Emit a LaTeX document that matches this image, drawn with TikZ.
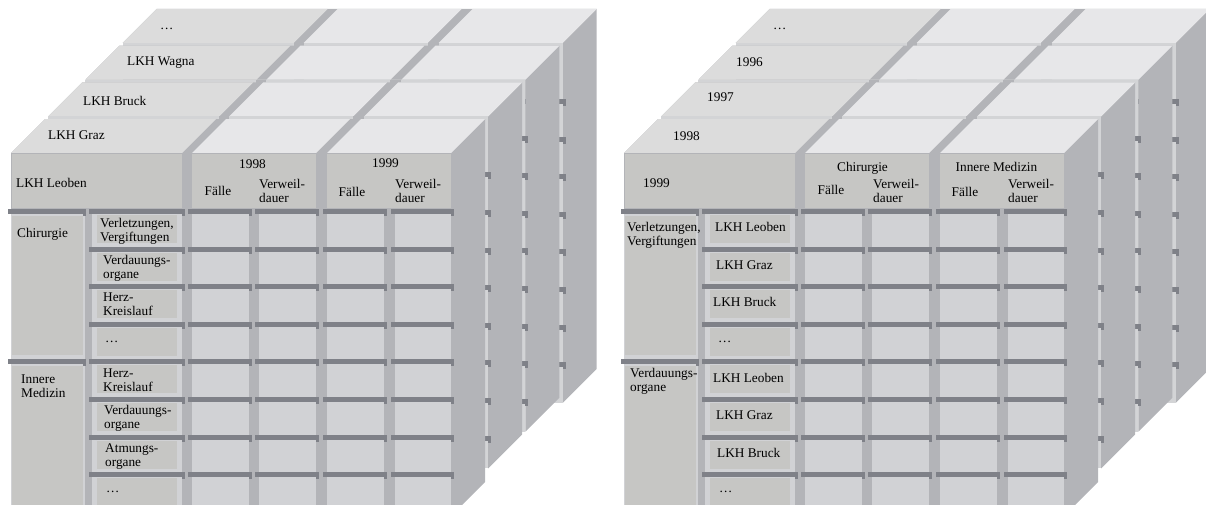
\documentclass[tikz,border=0pt]{standalone}
\usepackage{fontspec}
\setmainfont{Liberation Serif}
\definecolor{gmed}{HTML}{B3B4B8}
\definecolor{glight}{HTML}{D1D2D5}
\definecolor{ghead}{HTML}{C6C6C4}
\definecolor{gdark}{HTML}{7F8188}
\definecolor{gtop}{HTML}{E7E7E9}
\definecolor{gtopl}{HTML}{DCDCDC}
\definecolor{ggap}{HTML}{D3D4D6}
\tikzset{
  lbl/.style={inner sep=0pt, font=\fontsize{13.3}{14}\selectfont, align=left, anchor=base west},
  lblc/.style={inner sep=0pt, font=\fontsize{13.3}{14}\selectfont, anchor=base},
}
% right face and top face of slice #1 with local bottom #2
\newcommand\slicefaces[2]{%
 \begin{scope}[shift={({37.2*#1},{-36.7*#1})}]
   \fill[gmed] (451,153) -- (485,119) -- (485,#2-34) -- (451,#2) -- cycle;
   \fill[gmed] (11,153) -- (451,153) -- (485,119) -- (45,119) -- cycle;
   \fill[gtopl] (11,153) -- (182,153) -- (216,119) -- (45,119) -- cycle;
   \fill[gtop] (192,153) -- (316,153) -- (350,119) -- (226,119) -- cycle;
   \fill[gtop] (327,153) -- (451,153) -- (485,119) -- (361,119) -- cycle;
 \end{scope}}
% front face of a back slice (only a thin edge stays visible)
\newcommand\backfront[2]{%
 \begin{scope}[shift={({37.2*#1},{-36.7*#1})}]
   \fill[ggap] (11,153) rectangle (451,#2);
   \fill[gmed] (182,153) rectangle (192,209);
   \fill[gmed] (316,153) rectangle (327,209);
   \foreach \r in {0,...,7} {
      \pgfmathsetmacro\yb{209+37.6*\r}
      \fill[gdark] (392,\yb) rectangle (454,\yb+5);
      \fill[gdark] (451,\yb+5) rectangle (454,\yb+7);
   }
 \end{scope}}
\newcommand\frontface{%
  \fill[gmed] (11,153) rectangle (451,516);
  \fill[ghead] (12,154) rectangle (182,208);
  \fill[ghead] (192,154) rectangle (316,208);
  \fill[ghead] (327,154) rectangle (451,208);
  \fill[glight] (11,209) rectangle (85,516);
  \fill[glight] (92,209) rectangle (182,516);
  \foreach \a/\b in {192/249,259/316,327/384,395/451} {\fill[glight] (\a,209) rectangle (\b,516);}
  \fill[ghead] (12,216) rectangle (83,355);
  \fill[ghead] (12,366) rectangle (83,516);
  \foreach \r in {0,...,8} {
    \pgfmathsetmacro\yb{209+37.6*\r}
    \fill[ghead] (97,\yb+6) rectangle (177,\yb+34);
    \fill[gdark] (89,\yb) rectangle (185,\yb+5);
    \fill[gdark] (182,\yb+5) rectangle (185,\yb+7);
    \foreach \a/\b in {192/249,259/316,327/384,395/451} {
      \fill[gdark] (\a-4,\yb) rectangle (\b+3,\yb+5);
      \fill[gdark] (\b,\yb+5) rectangle (\b+3,\yb+7);
    }
  }
  \foreach \yb in {209,359.4} {
    \fill[gdark] (8,\yb) rectangle (86,\yb+5);
    \fill[gdark] (83,\yb+5) rectangle (86,\yb+7);
  }
}
\newcommand\drawcube{%
  \slicefaces{3}{513}\backfront{3}{513}%
  \slicefaces{2}{505}\backfront{2}{505}%
  \slicefaces{1}{505}\backfront{1}{505}%
  \slicefaces{0}{516}\frontface
}
\begin{document}
\begin{tikzpicture}[x=1pt,y=-1pt]
\useasboundingbox (0,0) rectangle (1206,504);
\clip (0,0) rectangle (1206,504);
\drawcube
\begin{scope}[shift={(613,0)}]
\drawcube
\end{scope}
% ---------- left cube labels
\node[lbl] (lgraz) at (48,139) {LKH Graz};
\node[lbl] (lbruck) at (83,105) {LKH Bruck};
\node[lbl] (lwagna) at (127,65) {LKH Wagna};
\node[lbl] (ltopdots) at (160,29) {…};
\node[lbl] (lleoben) at (16,187) {LKH Leoben};
\node[lblc] (l1998) at (252.5,168) {1998};
\node[lblc] (lf98) at (218,195) {Fälle};
\node[lbl] (lv98) at (259,202) {Verweil-\\dauer};
\node[lblc] (l1999) at (385.5,167.5) {1999};
\node[lblc] (lf99) at (352,196) {Fälle};
\node[lbl] (lv99) at (395,202) {Verweil-\\dauer};
\node[lbl] (lchir) at (17,237) {Chirurgie};
\node[lbl] (linn) at (21,397) {Innere\\Medizin};
\node[lbl] (lb0) at (100,241) {Verletzungen,\\Vergiftungen};
\node[lbl] (lb1) at (103,278) {Verdauungs-\\organe};
\node[lbl] (lb2) at (103,315.5) {Herz-\\Kreislauf};
\node[lbl] (lb3) at (105,342) {…};
\node[lbl] (lb4) at (103,391) {Herz-\\Kreislauf};
\node[lbl] (lb5) at (104,428.5) {Verdauungs-\\organe};
\node[lbl] (lb6) at (105,466) {Atmungs-\\organe};
\node[lbl] (lb7) at (106,492) {…};
% ---------- right cube labels
\node[lbl] (r1998) at (673,140) {1998};
\node[lbl] (r1997) at (707,101) {1997};
\node[lbl] (r1996) at (736,66.5) {1996};
\node[lbl] (rtopdots) at (773,29) {…};
\node[lbl] (r1999) at (643,187) {1999};
\node[lblc] (rchir) at (862.5,171) {Chirurgie};
\node[lblc] (rfc) at (831,194) {Fälle};
\node[lbl] (rvc) at (873,202) {Verweil-\\dauer};
\node[lblc] (rinn) at (996.5,171) {Innere Medizin};
\node[lblc] (rfi) at (965,196) {Fälle};
\node[lbl] (rvi) at (1008,202) {Verweil-\\dauer};
\node[lbl] (rva) at (627,245) {Verletzungen,\\Vergiftungen};
\node[lbl] (rvo) at (630,391) {Verdauungs-\\organe};
\node[lbl] (rb0) at (715,231) {LKH Leoben};
\node[lbl] (rb1) at (716,269) {LKH Graz};
\node[lbl] (rb2) at (713,306) {LKH Bruck};
\node[lbl] (rb3) at (718,342) {…};
\node[lbl] (rb4) at (713,382) {LKH Leoben};
\node[lbl] (rb5) at (716,419.5) {LKH Graz};
\node[lbl] (rb6) at (717,457) {LKH Bruck};
\node[lbl] (rb7) at (719,492) {…};
\end{tikzpicture}
\end{document}
